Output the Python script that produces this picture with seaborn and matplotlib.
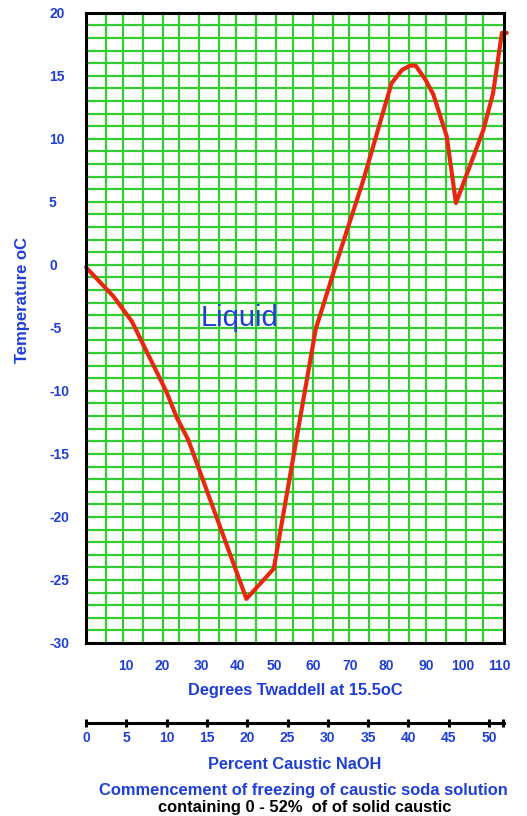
import matplotlib
matplotlib.use("Agg")
import matplotlib.pyplot as plt
import seaborn as sns
import pandas as pd

# ---------------- data ----------------
percent_naoh = [0, 3.4, 5.7, 10.0, 11.25, 12.7, 19.9, 23.3, 28.5, 31.5, 34.4,
                37.9, 39.2, 40.2, 40.9, 42.1, 43.1, 44.75, 45.9, 47.6, 49.3,
                50.5, 51.6, 52.2]
temperature_c = [-0.2, -2.5, -4.5, -10.1, -12.1, -13.9, -26.5, -24.1, -5.1, 1.0, 6.7,
                 14.4, 15.45, 15.8, 15.8, 14.7, 13.5, 10.2, 4.9, 7.8, 10.7,
                 13.6, 18.4, 18.4]

temp_ticks = [20, 15, 10, 5, 0, -5, -10, -15, -20, -25, -30]
twaddell_labels = ["10", "20", "30", "40", "50", "60", "70", "80", "90", "100", "110"]
twaddell_pos_pct = [5.0, 9.45, 14.35, 18.83, 23.33, 28.25, 32.79, 37.31, 42.22, 46.77, 51.33]
percent_ticks = [0, 5, 10, 15, 20, 25, 30, 35, 40, 45, 50]
vgrid_pct = [2.48, 4.55, 7.03, 9.52, 11.58, 14.06, 16.54, 18.61, 21.09, 23.57, 25.65,
             28.13, 30.6, 32.67, 35.15, 37.63, 40.11, 42.18, 44.67, 47.15, 49.22]
hgrid_temp = list(range(-29, 20))

df = pd.DataFrame({"pct": percent_naoh, "temp": temperature_c})

BLUE = "#1f3ed8"
GREEN = "#33cc33"
RED = "#e8280c"

sns.set_style("white")
plt.rcParams["font.family"] = ["Liberation Sans", "DejaVu Sans"]

W, H = 527, 816
fig = plt.figure(figsize=(W / 100, H / 100), dpi=100)
fig.patch.set_facecolor("white")

x0, x1 = 86, 504
y0, y1 = 12.7, 643
ax = fig.add_axes([x0 / W, 1 - y1 / H, (x1 - x0) / W, (y1 - y0) / H])
xmax = 51.86
ax.set_xlim(0, xmax)
ax.set_ylim(-30, 20)

for v in vgrid_pct:
    ax.axvline(v, color=GREEN, lw=1.6, zorder=1)
for h in hgrid_temp:
    ax.axhline(h, color=GREEN, lw=1.6, zorder=1)

sns.lineplot(data=df, x="pct", y="temp", sort=False, color=RED, lw=3.0,
             ax=ax, zorder=3, clip_on=False)

for s in ax.spines.values():
    s.set_color("black")
    s.set_linewidth(2.2)
    s.set_zorder(4)

ax.set_yticks(temp_ticks)
ax.set_yticklabels([str(t) for t in temp_ticks])
ax.tick_params(axis="y", length=0, pad=(x0 - 49) / 1.389, labelsize=10,
               labelcolor=BLUE)
for lab in ax.get_yticklabels():
    lab.set_ha("left")
    lab.set_fontweight("bold")

ax.set_xticks(twaddell_pos_pct)
ax.set_xticklabels(twaddell_labels)
ax.tick_params(axis="x", length=0, pad=11.5, labelsize=10, labelcolor=BLUE)
for lab in ax.get_xticklabels():
    lab.set_fontweight("bold")
ax.set_xlabel("")
ax.set_ylabel("")

ax.text(19.1, -4.2, "Liquid", color=BLUE, fontsize=21, ha="center", va="center",
        zorder=5)

cx = (x0 + x1) / 2 / W
fig.text(cx, 1 - 690.5 / H, "Degrees Twaddell at 15.5oC", color=BLUE,
         fontsize=11.8, fontweight="bold", ha="center", va="center")
fig.text(23 / W, 1 - 300 / H, "Temperature oC", color=BLUE, fontsize=12,
         fontweight="bold", rotation=90, ha="center", va="center")

# lower percent axis
ax2 = fig.add_axes([x0 / W, 1 - 723 / H, (x1 - x0) / W, 0.0001])
ax2.set_xlim(0, xmax)
ax2.set_yticks([])
for k in ["left", "right", "top"]:
    ax2.spines[k].set_visible(False)
ax2.spines["bottom"].set_linewidth(2.2)
ax2.spines["bottom"].set_color("black")
ax2.set_xticks(percent_ticks + [51.7])
ax2.set_xticklabels([str(p) for p in percent_ticks] + [""])
ax2.tick_params(axis="x", bottom=True, direction="inout", length=6, width=2.2,
                color="black", pad=3, labelsize=10, labelcolor=BLUE)
for lab in ax2.get_xticklabels():
    lab.set_fontweight("bold")
ax2.patch.set_alpha(0)

fig.text(cx, 1 - 764.5 / H, "Percent Caustic NaOH", color=BLUE, fontsize=11.8,
         fontweight="bold", ha="center", va="center")
fig.text(cx + 8 / W, 1 - 790.5 / H, "Commencement of freezing of caustic soda solution",
         color=BLUE, fontsize=11.9, fontweight="bold", ha="center", va="center")
fig.text(cx + 10 / W, 1 - 807.5 / H, "containing 0 - 52%  of of solid caustic",
         color="black", fontsize=11.9, fontweight="bold", ha="center", va="center")

fig.savefig("out.png", dpi=100)
